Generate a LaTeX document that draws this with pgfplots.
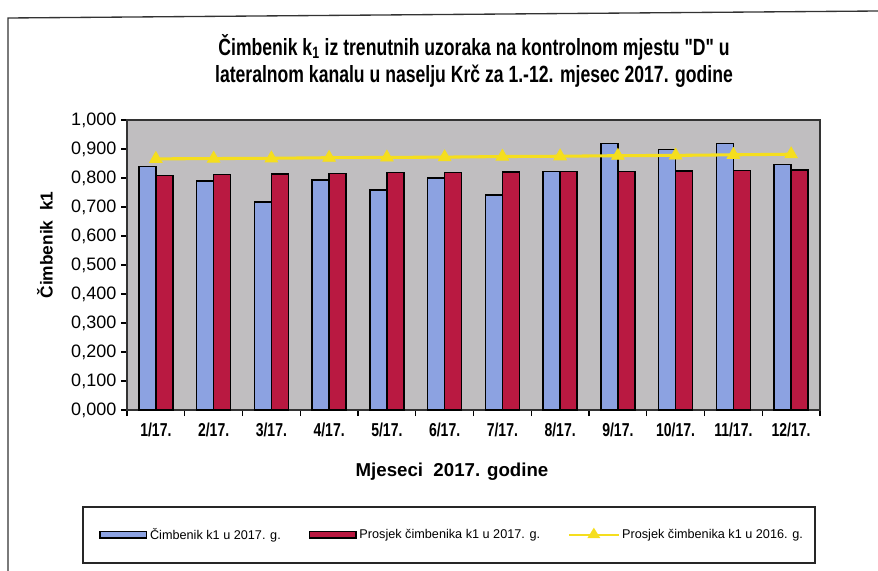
\documentclass[border=0pt]{standalone}
\usepackage{fontspec}
\setmainfont{Liberation Sans}
\newfontfamily\narrow{Liberation Sans}[FakeStretch=0.75]
\newfontfamily\narrowbf{Liberation Sans Bold}[FakeStretch=0.75]
\usepackage{pgfplots}
\pgfplotsset{compat=1.18}
\definecolor{plotbg}{RGB}{192,190,192}
\definecolor{k1blue}{RGB}{140,162,225}
\definecolor{k1red}{RGB}{185,25,65}
\definecolor{k1yellow}{RGB}{245,222,30}

\begin{document}
\begin{tikzpicture}
% page = 878 x 571 px, 1 px = 0.75pt
\begin{scope}[x=0.75pt,y=-0.75pt]
  \useasboundingbox (0,0) rectangle (878,571);
  \draw[line width=1pt,black!80] (8,575) -- (8,18) -- (878,11);
  \node[font=\narrowbf\fontsize{17.6}{20.5}\selectfont,align=center] at (474,61)
    {Čimbenik k\textsubscript{1} iz trenutnih uzoraka na kontrolnom mjestu "D" u\\
     lateralnom kanalu u naselju Krč za 1.-12. mjesec 2017. godine};
  \node[font=\bfseries\fontsize{13}{15}\selectfont,rotate=90] at (45,245) {Čimbenik\ \ k1};
  \node[font=\bfseries\fontsize{14}{16}\selectfont] at (452,472) {Mjeseci\ \ 2017. godine};
  \draw[line width=0.9pt,black!85] (83,507) rectangle (815,563);
\end{scope}

\begin{axis}[
  at={(95.25pt,-307.5pt)}, anchor=south west,
  scale only axis, width=519.75pt, height=217.5pt,
  axis background/.style={fill=plotbg},
  axis line style={black!80, line width=0.8pt},
  xmin=0.5, xmax=12.5, ymin=0, ymax=1,
  xtick={0.5,1.5,...,12.5},
  x tick label as interval,
  xticklabels={1/17.,2/17.,3/17.,4/17.,5/17.,6/17.,7/17.,8/17.,9/17.,10/17.,11/17.,12/17.},
  ytick={0,0.1,...,1.0},
  tick align=outside, major tick length=4.5pt,
  xtick pos=bottom, ytick pos=left,
  tick style={black, line width=0.8pt},
  x tick label style={font=\narrowbf\fontsize{14}{16}\selectfont, yshift=-2pt},
  y tick label style={font=\fontsize{13.5}{15}\selectfont},
  /pgf/number format/.cd, fixed, fixed zerofill, precision=3, use comma, assume math mode=true,
  /pgfplots/.cd,
  legend style={at={(0.4697,-0.431)}, anchor=center, draw=none, fill=none,
    font=\fontsize{9.5}{11}\selectfont, legend columns=3,
    /tikz/every even column/.append style={column sep=19pt}},
  legend cell align=left,
]
\addplot[ybar, bar width=0.294, bar shift=-0.147, fill=k1blue, draw=black, line width=1pt,
  legend image code/.code={\draw[fill=k1blue,draw=black,line width=1pt] (0pt,-2.2pt) rectangle (35pt,2.8pt);}]
  coordinates {(1,0.839)(2,0.790)(3,0.717)(4,0.793)(5,0.759)(6,0.800)
               (7,0.741)(8,0.822)(9,0.920)(10,0.899)(11,0.920)(12,0.847)};
\addlegendentry{Čimbenik k1 u 2017. g.}
\addplot[ybar, bar width=0.294, bar shift=0.147, fill=k1red, draw=black, line width=1pt,
  legend image code/.code={\draw[fill=k1red,draw=black,line width=1pt] (0pt,-2.2pt) rectangle (35pt,2.8pt);}]
  coordinates {(1,0.808)(2,0.812)(3,0.814)(4,0.816)(5,0.818)(6,0.820)
               (7,0.821)(8,0.822)(9,0.823)(10,0.824)(11,0.826)(12,0.828)};
\addlegendentry{Prosjek čimbenika k1 u 2017. g.}
\addplot[sharp plot, color=k1yellow, line width=2.3pt, mark=triangle*, mark size=5.5pt,
  mark options={fill=k1yellow, draw=k1yellow, line width=0.5pt},
  legend image code/.code={\draw[k1yellow,line width=1.5pt] (0pt,0.3pt) -- (37pt,0.3pt);
    \fill[k1yellow] (18.5pt,0.3pt) ++(0,3pt) -- ++(-2.8pt,-4.5pt) -- ++(5.6pt,0) -- cycle;}]
  coordinates {(1,0.866)(2,0.867)(3,0.868)(4,0.870)(5,0.871)(6,0.872)
               (7,0.874)(8,0.875)(9,0.877)(10,0.878)(11,0.880)(12,0.882)};
\addlegendentry{Prosjek čimbenika k1 u 2016. g.}
\end{axis}
\end{tikzpicture}
\end{document}
